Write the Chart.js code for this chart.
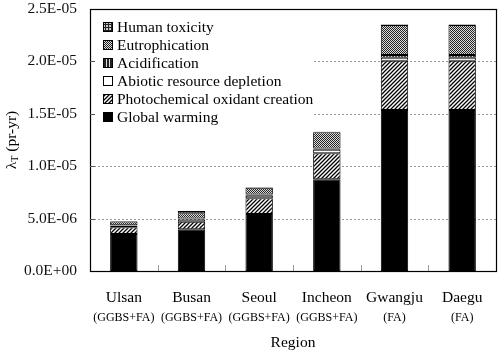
<!DOCTYPE html>
<html><head><meta charset="utf-8">
<script src="https://cdn.jsdelivr.net/npm/chart.js@4.4.1/dist/chart.umd.min.js"></script>
<style>html,body{margin:0;padding:0;background:#fff;}</style>
</head><body>
<canvas id="c" width="500" height="356" style="width:500px;height:356px;display:block"></canvas>
<script>
// ---- data ----
const categories = ['Ulsan', 'Busan', 'Seoul', 'Incheon', 'Gwangju', 'Daegu'];
const subLabels = ['(GGBS+FA)', '(GGBS+FA)', '(GGBS+FA)', '(GGBS+FA)', '(FA)', '(FA)'];
const globalWarming   = [3.53e-6, 3.98e-6, 5.44e-6, 8.75e-6, 15.36e-6, 15.36e-6];
const photochemical   = [0.64e-6, 0.72e-6, 1.50e-6, 2.48e-6, 4.70e-6, 4.70e-6];
const abioticDepletion= [0.15e-6, 0.22e-6, 0.25e-6, 0.35e-6, 0.30e-6, 0.30e-6];
const acidification   = [0.05e-6, 0.10e-6, 0.10e-6, 0.10e-6, 0.25e-6, 0.25e-6];
const eutrophication  = [0.35e-6, 0.50e-6, 0.65e-6, 1.55e-6, 2.86e-6, 2.86e-6];
const humanToxicity   = [0.05e-6, 0.20e-6, 0.05e-6, 0.05e-6, 0.05e-6, 0.05e-6];
const yTicks = [0, 5e-6, 1e-5, 1.5e-5, 2e-5, 2.5e-5];

const FONT = "'Liberation Serif', 'Times New Roman', serif";
const canvas = document.getElementById('c');
const ctx0 = canvas.getContext('2d');

function tile(w, h, draw) {
  const c = document.createElement('canvas'); c.width = w; c.height = h;
  draw(c.getContext('2d'), w, h);
  return ctx0.createPattern(c, 'repeat');
}
const pHatch = tile(4, 4, (g) => {
  g.fillStyle = '#fff'; g.fillRect(0, 0, 4, 4);
  g.strokeStyle = '#000'; g.lineWidth = 1.3; g.beginPath();
  g.moveTo(0, 4); g.lineTo(4, 0); g.moveTo(-1, 1); g.lineTo(1, -1); g.moveTo(3, 5); g.lineTo(5, 3);
  g.stroke();
});
const pChecker = tile(2, 2, (g) => {
  g.fillStyle = '#ddd'; g.fillRect(0, 0, 2, 2);
  g.fillStyle = '#222'; g.fillRect(0, 0, 1, 1); g.fillRect(1, 1, 1, 1);
});
const pVert = tile(3, 3, (g) => {
  g.fillStyle = '#222'; g.fillRect(0, 0, 3, 3);
  g.fillStyle = '#ddd'; g.fillRect(1, 0, 1, 3);
});
const pGrid = tile(3, 3, (g) => {
  g.fillStyle = '#222'; g.fillRect(0, 0, 3, 3);
  g.fillStyle = '#ccc'; g.fillRect(1, 1, 2, 2);
});

function fmt(v) {
  if (Math.abs(v) < 1e-20) return '0.0E+00';
  const parts = v.toExponential(1).split('e');
  const n = parseInt(parts[1], 10);
  return parts[0] + 'E' + (n < 0 ? '-' : '+') + String(Math.abs(n)).padStart(2, '0');
}

const common = { borderColor: '#000', borderWidth: 1, borderSkipped: false, stack: 's' };
const datasets = [
  Object.assign({ label: 'Global warming', data: globalWarming, backgroundColor: '#000' }, common),
  Object.assign({ label: 'Photochemical oxidant creation', data: photochemical, backgroundColor: pHatch }, common),
  Object.assign({ label: 'Abiotic resource depletion', data: abioticDepletion, backgroundColor: '#fff' }, common),
  Object.assign({ label: 'Acidification', data: acidification, backgroundColor: pVert }, common),
  Object.assign({ label: 'Eutrophication', data: eutrophication, backgroundColor: pChecker }, common),
  Object.assign({ label: 'Human toxicity', data: humanToxicity, backgroundColor: pGrid }, common),
];

const decor = {
  id: 'decor',
  beforeDatasetsDraw(chart) {
    const { ctx, chartArea: a, scales: { y } } = chart;
    ctx.save();
    ctx.strokeStyle = '#999'; ctx.lineWidth = 1; ctx.setLineDash([2, 2]);
    yTicks.forEach((t) => {
      if (t <= 0 || t >= y.max) return;
      const py = Math.round(y.getPixelForValue(t)) + 0.5;
      ctx.beginPath(); ctx.moveTo(a.left, py); ctx.lineTo(a.right, py); ctx.stroke();
    });
    ctx.restore();
  },
  afterDatasetsDraw(chart) {
    const { ctx, chartArea: a, scales: { x, y } } = chart;
    ctx.save();
    // legend box (white background, no border)
    ctx.fillStyle = '#fff';
    ctx.fillRect(a.left + 1, a.top + 1, 222, 118);
    const items = chart.data.datasets.slice().reverse();
    ctx.font = '15.5px ' + FONT; ctx.textBaseline = 'middle'; ctx.textAlign = 'left';
    items.forEach((ds, i) => {
      const cy = a.top + 18 + i * 17.9;
      ctx.fillStyle = ds.backgroundColor;
      ctx.fillRect(a.left + 13, Math.round(cy - 5), 10, 10);
      ctx.strokeStyle = '#000'; ctx.lineWidth = 1;
      ctx.strokeRect(a.left + 13.5, Math.round(cy - 5) + 0.5, 9, 9);
      ctx.fillStyle = '#000';
      ctx.fillText(ds.label, a.left + 27, cy + 1);
    });
    // frame
    ctx.strokeStyle = '#000'; ctx.lineWidth = 1.2;
    ctx.strokeRect(a.left + 0.5, a.top + 0.5, a.right - a.left, a.bottom - a.top);
    // y ticks (inward)
    ctx.strokeStyle = '#555'; ctx.lineWidth = 1;
    yTicks.forEach((t) => {
      if (t <= 0 || t >= y.max) return;
      const py = Math.round(y.getPixelForValue(t)) + 0.5;
      ctx.beginPath(); ctx.moveTo(a.left, py); ctx.lineTo(a.left + 5, py); ctx.stroke();
    });
    // x ticks between categories (inward)
    ctx.strokeStyle = '#999';
    for (let i = 1; i < categories.length; i++) {
      const px = Math.round((x.getPixelForValue(i - 1) + x.getPixelForValue(i)) / 2) + 0.5;
      ctx.beginPath(); ctx.moveTo(px, a.bottom); ctx.lineTo(px, a.bottom - 6); ctx.stroke();
    }
    // sub labels
    ctx.fillStyle = '#000'; ctx.font = '12px ' + FONT; ctx.textAlign = 'center'; ctx.textBaseline = 'middle';
    subLabels.forEach((s, i) => ctx.fillText(s, x.getPixelForValue(i), a.bottom + 47));
    // y axis title with subscript
    ctx.translate(12, (a.top + a.bottom) / 2);
    ctx.rotate(-Math.PI / 2);
    const f1 = '15.5px ' + FONT, f2 = '10px ' + FONT;
    ctx.font = f1; const w1 = ctx.measureText('\u03bb').width; const w3 = ctx.measureText(' (pr-yr)').width;
    ctx.font = f2; const w2 = ctx.measureText('T').width;
    let sx = -(w1 + w2 + w3) / 2;
    ctx.textAlign = 'left'; ctx.textBaseline = 'middle';
    ctx.font = f1; ctx.fillText('\u03bb', sx, 0); sx += w1;
    ctx.font = f2; ctx.fillText('T', sx, 3); sx += w2;
    ctx.font = f1; ctx.fillText(' (pr-yr)', sx, 0);
    ctx.restore();
  }
};

new Chart(canvas, {
  type: 'bar',
  data: { labels: categories, datasets },
  options: {
    responsive: false, animation: false, devicePixelRatio: 1,
    layout: { padding: { left: 0, right: 4, top: 9, bottom: 0 } },
    plugins: { legend: { display: false }, tooltip: { enabled: false } },
    datasets: { bar: { barPercentage: 0.405, categoryPercentage: 1 } },
    scales: {
      x: {
        stacked: true,
        grid: { display: false, drawTicks: false }, border: { display: false },
        ticks: { color: '#000', font: { family: FONT, size: 15.5 }, padding: 17.5, maxRotation: 0, autoSkip: false },
        title: { display: true, text: 'Region', color: '#000', font: { family: FONT, size: 15.5 }, padding: { top: 0, bottom: 4 } },
        afterFit: (s) => { s.height = 85; s.paddingLeft = 0; s.paddingRight = 0; }
      },
      y: {
        stacked: true, min: 0, max: 2.5e-5,
        afterBuildTicks: (s) => { s.ticks = yTicks.map((v) => ({ value: v })); },
        grid: { display: false, drawTicks: false }, border: { display: false },
        ticks: { color: '#111', font: { family: FONT, size: 15.5 }, padding: 13, callback: (v) => fmt(v) },
        afterFit: (s) => { s.width = 90; s.paddingTop = 0; s.paddingBottom = 0; }
      }
    }
  },
  plugins: [decor]
});
</script>
</body></html>
